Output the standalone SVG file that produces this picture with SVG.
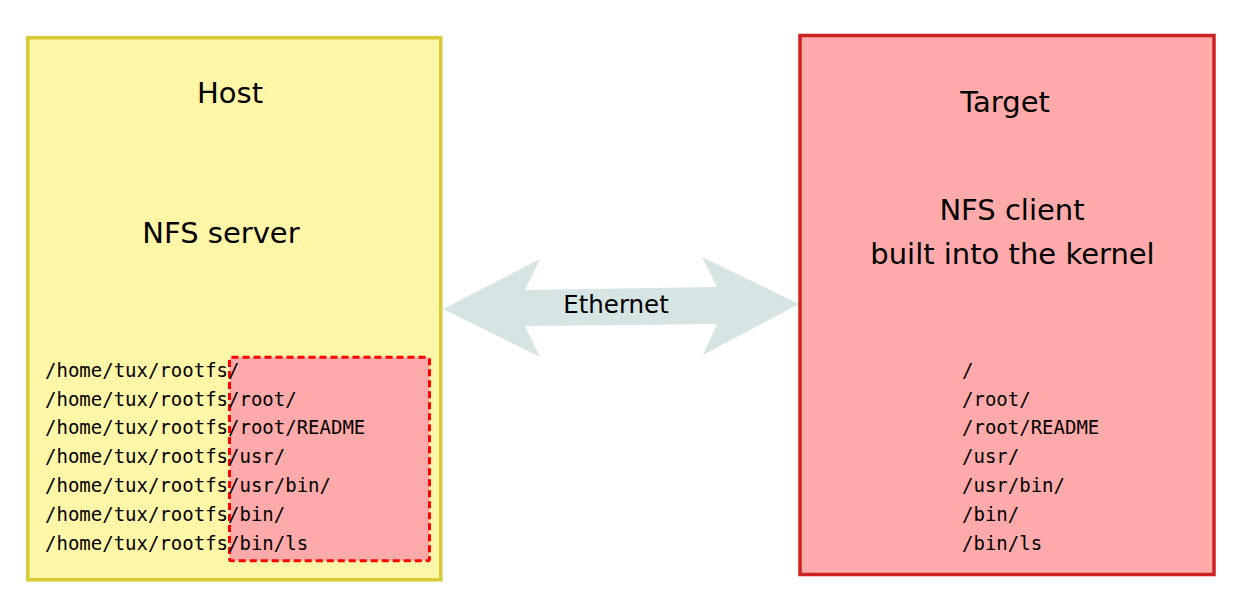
<svg xmlns="http://www.w3.org/2000/svg" width="1244" height="602" viewBox="0 0 1244 602">
<style>
.lbl{font-family:"DejaVu Sans",sans-serif;font-size:29px;fill:#000;text-anchor:middle}
.mono{font-family:"DejaVu Sans Mono",monospace;font-size:19px;fill:#000}
</style>
<rect width="1244" height="602" fill="#fff"/>
<g id="connectors">
<polygon points="443,309 540,259 525,290 717,287 702,257 799,304 703,355 717,324 525,326 540,357" fill="#D6E4E4"/>
<text x="616" y="313" style="font-family:'DejaVu Sans',sans-serif;font-size:24.5px;text-anchor:middle">Ethernet</text>
</g>
<g id="host">
<rect x="27.8" y="37.8" width="413" height="542" fill="#FFF6A8" stroke="#D8CA34" stroke-width="3.5"/>
<text class="lbl" x="230" y="102.7">Host</text>
<text class="lbl" x="221" y="243">NFS server</text>
<rect x="229.5" y="357.2" width="200" height="203.6" rx="2" fill="#FFAAAA" stroke="#FF0000" stroke-width="3" stroke-dasharray="7 4"/>
<text class="mono" x="45" y="376.7">/home/tux/rootfs/</text>
<text class="mono" x="45" y="405.5">/home/tux/rootfs/root/</text>
<text class="mono" x="45" y="434.3">/home/tux/rootfs/root/README</text>
<text class="mono" x="45" y="463.1">/home/tux/rootfs/usr/</text>
<text class="mono" x="45" y="491.9">/home/tux/rootfs/usr/bin/</text>
<text class="mono" x="45" y="520.7">/home/tux/rootfs/bin/</text>
<text class="mono" x="45" y="549.5">/home/tux/rootfs/bin/ls</text>
</g>
<g id="target">
<rect x="800" y="35.5" width="414" height="539" fill="#FFAAAA" stroke="#CC2222" stroke-width="3.5"/>
<text class="lbl" x="1005" y="111.7">Target</text>
<text class="lbl" x="1012" y="220">NFS client</text>
<text class="lbl" x="1012.5" y="264.3">built into the kernel</text>
<text class="mono" x="962" y="376.7">/</text>
<text class="mono" x="962" y="405.5">/root/</text>
<text class="mono" x="962" y="434.3">/root/README</text>
<text class="mono" x="962" y="463.1">/usr/</text>
<text class="mono" x="962" y="491.9">/usr/bin/</text>
<text class="mono" x="962" y="520.7">/bin/</text>
<text class="mono" x="962" y="549.5">/bin/ls</text>
</g>
</svg>
